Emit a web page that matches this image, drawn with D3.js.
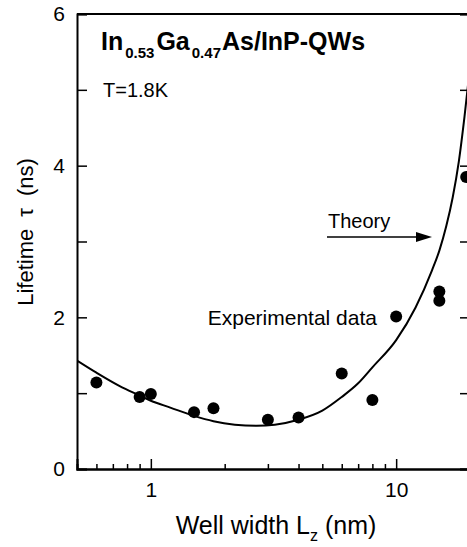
<!DOCTYPE html>
<html>
<head>
<meta charset="utf-8">
<script src="https://cdn.jsdelivr.net/npm/d3@7"></script>
<style>
  body { margin: 0; background: #fff; }
  text { font-family: "Liberation Sans", Arial, sans-serif; fill: #000; }
</style>
</head>
<body>
<div id="canvas"></div>
<script>
//measured data: well width (nm) and lifetime (ns)
var expWidth = [0.6, 0.9, 1.0, 1.5, 1.8, 3.0, 4.0, 6.0, 8.0, 10, 15, 15, 19.3];
var expTau   = [1.14, 0.95, 0.99, 0.75, 0.80, 0.65, 0.68, 1.26, 0.91, 2.01, 2.34, 2.22, 3.85];

//theory curve
var theoryWidth = [0.5, 0.6, 0.75, 0.9, 1.0, 1.2, 1.5, 1.8, 2.2, 2.7, 3.2, 4.0, 5.0, 6.0, 7.0, 8.0, 10, 12, 14, 15, 16, 17, 18, 19, 20];
var theoryTau   = [1.43, 1.27, 1.09, 0.97, 0.90, 0.81, 0.70, 0.63, 0.585, 0.57, 0.585, 0.65, 0.77, 0.95, 1.13, 1.34, 1.70, 2.13, 2.62, 2.88, 3.2, 3.58, 4.05, 4.65, 5.3];

//axis ticks
var xMajor = [1, 10];
var xMinor = [0.6, 0.7, 0.8, 0.9, 2, 3, 4, 5, 6, 7, 8, 9];
var yTicks = [0, 1, 2, 3, 4, 5, 6];

//canvas
var cv = {
  'width': 467,
  'height': 547,
  'left': 77,
  'right': 470,
  'top': 14,
  'bottom': 469
};

var xScale = d3.scaleLog()
  .domain([0.5, 20])
  .range([cv.left, cv.right]);

var yScale = d3.scaleLinear()
  .domain([0, 6])
  .range([cv.bottom, cv.top]);

var svg = d3.select('#canvas').append('svg')
  .attr('width', cv.width)
  .attr('height', cv.height);

svg.append('defs').append('clipPath')
  .attr('id', 'plotclip')
  .append('rect')
  .attr('x', cv.left)
  .attr('y', cv.top)
  .attr('width', cv.right - cv.left)
  .attr('height', cv.bottom - cv.top);

//frame: top line
svg.append('line')
  .attr('x1', cv.left).attr('x2', cv.right)
  .attr('y1', cv.top).attr('y2', cv.top)
  .attr('stroke', '#000')
  .attr('stroke-width', 2);

//left axis, ticks pointing inside
svg.append('g')
  .attr('transform', 'translate(' + cv.left + ',0)')
  .call(d3.axisLeft(yScale)
    .tickValues(yTicks)
    .tickSize(-10)
    .tickPadding(12)
    .tickFormat(d => d % 2 === 0 ? d : ''));

//right axis, no labels
svg.append('g')
  .attr('transform', 'translate(' + cv.right + ',0)')
  .call(d3.axisRight(yScale)
    .tickValues(yTicks)
    .tickSize(-10)
    .tickFormat(''));

//bottom axis: majors with labels, minors without
svg.append('g')
  .attr('transform', 'translate(0,' + cv.bottom + ')')
  .call(d3.axisBottom(xScale)
    .tickValues(xMajor)
    .tickSize(-10)
    .tickPadding(13)
    .tickFormat(d3.format('d')));

svg.append('g')
  .attr('transform', 'translate(0,' + cv.bottom + ')')
  .call(d3.axisBottom(xScale)
    .tickValues(xMinor)
    .tickSize(-5)
    .tickFormat(''));

svg.selectAll('.domain')
  .attr('stroke', '#000')
  .attr('stroke-width', 2);

svg.selectAll('.tick line')
  .attr('stroke', '#000')
  .attr('stroke-width', 1.5);

svg.selectAll('.tick text')
  .attr('font-size', 21)
  .attr('font-family', '"Liberation Sans", Arial, sans-serif')
  .attr('fill', '#000');

//theory line
var theory = theoryWidth.map((w, i) => ({w: w, t: theoryTau[i]}));

var line = d3.line()
  .x(d => xScale(d.w))
  .y(d => yScale(d.t))
  .curve(d3.curveMonotoneX);

svg.append('path')
  .datum(theory)
  .attr('clip-path', 'url(#plotclip)')
  .attr('d', line)
  .attr('fill', 'none')
  .attr('stroke', '#000')
  .attr('stroke-width', 2);

//experimental points
var points = expWidth.map((w, i) => ({w: w, t: expTau[i]}));

svg.selectAll('.pt')
  .data(points)
  .enter().append('circle')
  .attr('class', 'pt')
  .attr('cx', d => xScale(d.w))
  .attr('cy', d => yScale(d.t))
  .attr('r', 6)
  .attr('fill', '#000');

//title
var title = svg.append('text')
  .attr('x', 101)
  .attr('y', 50)
  .attr('font-size', 25)
  .attr('font-weight', 'bold');
title.append('tspan').text('In');
title.append('tspan').attr('dx', 2).attr('dy', 8).attr('font-size', 15).text('0.53');
title.append('tspan').attr('dx', 2).attr('dy', -8).text('Ga');
title.append('tspan').attr('dx', 2).attr('dy', 8).attr('font-size', 15).text('0.47');
title.append('tspan').attr('dx', 1).attr('dy', -8).text('As/InP-QWs');

svg.append('text')
  .attr('x', 103)
  .attr('y', 97)
  .attr('font-size', 20)
  .text('T=1.8K');

//annotations
svg.append('text')
  .attr('x', 328)
  .attr('y', 228)
  .attr('font-size', 20)
  .text('Theory');

svg.append('line')
  .attr('x1', 327).attr('x2', 420)
  .attr('y1', 237).attr('y2', 237)
  .attr('stroke', '#000')
  .attr('stroke-width', 1.5);

svg.append('path')
  .attr('d', 'M432,237 L416,232 L416,242 Z')
  .attr('fill', '#000');

svg.append('text')
  .attr('x', 377)
  .attr('y', 325)
  .attr('text-anchor', 'end')
  .attr('font-size', 21)
  .text('Experimental data');

//axis titles
var xLabel = svg.append('text')
  .attr('x', 276)
  .attr('y', 534)
  .attr('text-anchor', 'middle')
  .attr('font-size', 25);
xLabel.append('tspan').text('Well width L');
xLabel.append('tspan').attr('dy', 7).attr('font-size', 16).text('z');
xLabel.append('tspan').attr('dy', -7).text(' (nm)');

var yLabel = svg.append('text')
  .attr('transform', 'translate(33,232) rotate(-90)')
  .attr('text-anchor', 'middle')
  .attr('font-size', 22);
yLabel.append('tspan').text('Lifetime');
yLabel.append('tspan').attr('dx', 12).text('τ');
yLabel.append('tspan').attr('dx', 12).text('(ns)');
</script>
</body>
</html>
